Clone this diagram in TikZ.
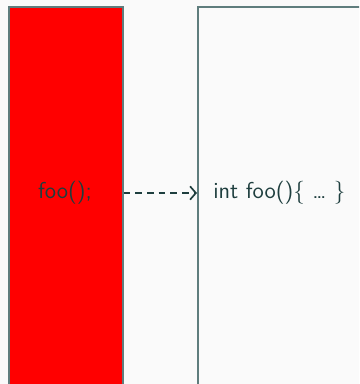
\documentclass[tikz,border=0pt]{standalone}
\usepackage{tikz}
\usetikzlibrary{positioning,calc,arrows.meta}
\definecolor{bgcol}{RGB}{250,250,250}
\definecolor{inkcol}{RGB}{30,62,62}
\definecolor{framecol}{RGB}{95,125,125}
\begin{document}
\begin{tikzpicture}[x=0.6pt,y=-0.6pt,font=\sffamily\fontsize{13.8}{16}\selectfont,
    frame/.style={draw=framecol,line width=1pt,rectangle,inner sep=0pt,anchor=north west},
    codetext/.style={text=inkcol,inner sep=0pt}]
    \useasboundingbox[fill=bgcol] (0,0) rectangle (359,384);
    \clip (0,0) rectangle (359,384);
    % the two boxes
    \node[frame,fill=red,minimum width=114*0.6pt,minimum height=420*0.6pt] (caller) at (8,6) {};
    \node[frame,fill=bgcol,minimum width=200*0.6pt,minimum height=420*0.6pt] (callee) at (197,6) {};
    % texts
    \node[codetext] (call) at (65,193) {foo();};
    \node[codetext,anchor=west] (body) at (213,193) {int foo()\{ \dots\ \}};
    \draw[dash pattern=on 4pt off 3pt,-{Straight Barb[length=3.5pt,width=8pt]},inkcol,line width=1pt]
        (call -| caller.east) -- (call -| callee.west);
\end{tikzpicture}
\end{document}
